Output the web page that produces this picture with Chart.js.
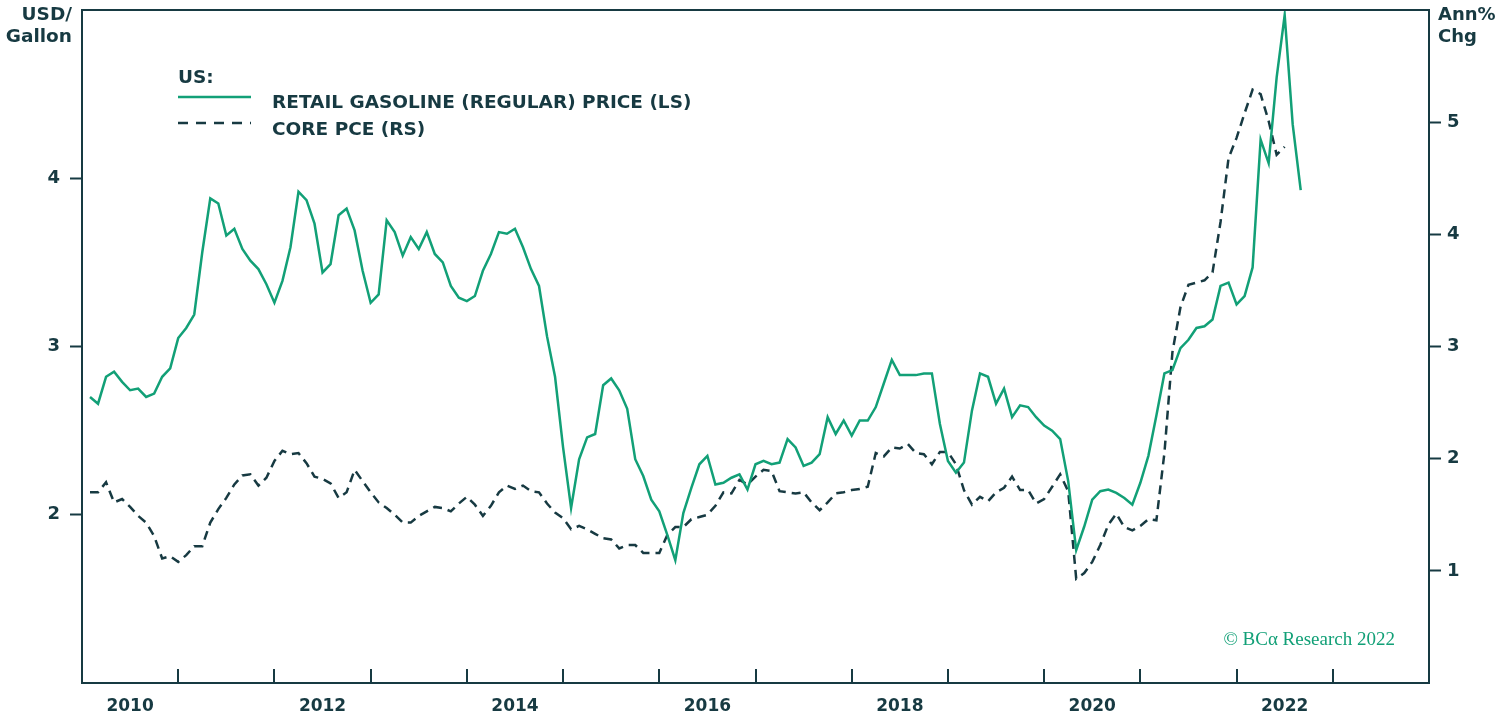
<!DOCTYPE html>
<html>
<head>
<meta charset="utf-8">
<script src="https://cdn.jsdelivr.net/npm/chart.js@4.4.0/dist/chart.umd.min.js"></script>
<style>
  html, body { margin: 0; padding: 0; background: #fff; }
  #wrap { width: 1499px; height: 714px; position: relative; }
</style>
</head>
<body>
<div id="wrap"><canvas id="myChart"></canvas></div>
<script>
// monthly, starting Jan 2010 (index 0)
const gasPrice = [
  2.70, 2.66, 2.82, 2.85, 2.79, 2.74, 2.75, 2.70, 2.72, 2.82, 2.87, 3.05,
  3.11, 3.19, 3.56, 3.88, 3.85, 3.66, 3.70, 3.58, 3.51, 3.46, 3.37, 3.26,
  3.39, 3.59, 3.92, 3.87, 3.73, 3.44, 3.49, 3.78, 3.82, 3.69, 3.45, 3.26,
  3.31, 3.75, 3.68, 3.54, 3.65, 3.58, 3.68, 3.55, 3.50, 3.36, 3.29, 3.27,
  3.30, 3.45, 3.55, 3.68, 3.67, 3.70, 3.59, 3.46, 3.36, 3.06, 2.82, 2.40,
  2.04, 2.33, 2.46, 2.48, 2.77, 2.81, 2.74, 2.63, 2.33, 2.23, 2.09, 2.02,
  1.88, 1.73, 2.01, 2.16, 2.30, 2.35, 2.18, 2.19, 2.22, 2.24, 2.15, 2.30,
  2.32, 2.30, 2.31, 2.45, 2.40, 2.29, 2.31, 2.36, 2.58, 2.48, 2.56, 2.47,
  2.56, 2.56, 2.64, 2.78, 2.92, 2.83, 2.83, 2.83, 2.84, 2.84, 2.54, 2.32,
  2.25, 2.31, 2.62, 2.84, 2.82, 2.66, 2.75, 2.58, 2.65, 2.64, 2.58, 2.53,
  2.50, 2.45, 2.20, 1.79, 1.93, 2.09, 2.14, 2.15, 2.13, 2.10, 2.06, 2.19,
  2.35, 2.59, 2.84, 2.86, 2.99, 3.04, 3.11, 3.12, 3.16, 3.36, 3.38, 3.25,
  3.30, 3.47, 4.23, 4.09, 4.60, 4.97, 4.32, 3.93
];
const corePce = [
  1.70, 1.70, 1.79, 1.61, 1.64, 1.57, 1.49, 1.43, 1.31, 1.11, 1.13, 1.08,
  1.14, 1.22, 1.22, 1.43, 1.55, 1.65, 1.77, 1.85, 1.86, 1.76, 1.83, 1.98,
  2.07, 2.04, 2.05, 1.96, 1.84, 1.82, 1.78, 1.65, 1.70, 1.90, 1.80, 1.70,
  1.61, 1.56, 1.50, 1.43, 1.43, 1.49, 1.53, 1.57, 1.56, 1.53, 1.60, 1.66,
  1.59, 1.49, 1.58, 1.70, 1.76, 1.73, 1.76, 1.71, 1.70, 1.60, 1.52, 1.47,
  1.37, 1.40, 1.37, 1.33, 1.29, 1.28, 1.20, 1.23, 1.23, 1.16, 1.16, 1.16,
  1.32, 1.39, 1.39, 1.46, 1.48, 1.50, 1.58, 1.70, 1.69, 1.81, 1.77, 1.84,
  1.90, 1.89, 1.71, 1.70, 1.69, 1.70, 1.61, 1.54, 1.61, 1.69, 1.70, 1.72,
  1.73, 1.75, 2.05, 2.02, 2.10, 2.09, 2.13, 2.05, 2.04, 1.95, 2.06, 2.06,
  1.95, 1.72, 1.59, 1.66, 1.62, 1.70, 1.74, 1.84, 1.72, 1.72, 1.60, 1.64,
  1.75, 1.86, 1.71, 0.93, 0.98, 1.08, 1.23, 1.41, 1.51, 1.39, 1.36, 1.40,
  1.46, 1.45, 2.05, 2.95, 3.35, 3.55, 3.57, 3.59, 3.66, 4.11, 4.68, 4.86,
  5.08, 5.29, 5.25, 5.01, 4.71, 4.78
];
const firstYear = 2010;
const lastYear = 2023;
const yearLabels = ['2010', '2012', '2014', '2016', '2018', '2020', '2022'];
const leftTicks = [2, 3, 4];
const rightTicks = [1, 2, 3, 4, 5];

const dark = '#173a42';
const green = '#12a077';
const font = '"DejaVu Sans", sans-serif';

// month index of the middle of a year, and of the start of a year
const yearMid = y => (y - firstYear) * 12 + 5;
const yearStart = y => (y - firstYear) * 12 - 1;

const toPts = arr => arr.map((v, i) => ({ x: i, y: v }));

// no automatic label padding on the value axes
const noPad = s => { s.paddingTop = 0; s.paddingBottom = 0; };

const decor = {
  id: 'decor',
  afterDraw(chart) {
    const ctx = chart.ctx;
    const a = chart.chartArea;
    const xs = chart.scales.x;
    ctx.save();
    ctx.strokeStyle = dark;
    ctx.lineWidth = 2;
    // top frame line
    ctx.beginPath();
    ctx.moveTo(a.left - 1, a.top);
    ctx.lineTo(a.right + 1, a.top);
    ctx.stroke();
    // inward year ticks
    for (let y = firstYear + 1; y <= lastYear; y++) {
      const px = Math.round(xs.getPixelForValue(yearStart(y)));
      ctx.beginPath();
      ctx.moveTo(px, a.bottom);
      ctx.lineTo(px, a.bottom - 14);
      ctx.stroke();
    }
    // axis titles
    ctx.fillStyle = dark;
    ctx.font = 'bold 18.5px ' + font;
    ctx.textBaseline = 'middle';
    ctx.textAlign = 'right';
    ctx.fillText('USD/', 72, 15);
    ctx.fillText('Gallon', 72, 37);
    ctx.textAlign = 'left';
    ctx.font = 'bold 18px ' + font;
    ctx.fillText('Ann%', 1438, 15);
    ctx.fillText('Chg', 1438, 37);
    // legend
    ctx.font = 'bold 18.5px ' + font;
    ctx.fillText('US:', 178, 78);
    ctx.fillText('RETAIL GASOLINE (REGULAR) PRICE (LS)', 272, 103);
    ctx.fillText('CORE PCE (RS)', 272, 130);
    ctx.lineWidth = 2.5;
    ctx.strokeStyle = green;
    ctx.beginPath();
    ctx.moveTo(178, 97);
    ctx.lineTo(251, 97);
    ctx.stroke();
    ctx.strokeStyle = dark;
    ctx.setLineDash([10, 8]);
    ctx.beginPath();
    ctx.moveTo(178, 123);
    ctx.lineTo(251, 123);
    ctx.stroke();
    ctx.setLineDash([]);
    // credit
    ctx.fillStyle = green;
    ctx.font = '19px "Liberation Serif", "DejaVu Serif", serif';
    ctx.textAlign = 'right';
    ctx.fillText('\u00A9 BC\u03B1 Research 2022', 1395, 640);
    ctx.restore();
  }
};

const ctx = document.getElementById('myChart').getContext('2d');
const myChart = new Chart(ctx, {
  type: 'line',
  data: {
    datasets: [
      {
        label: 'RETAIL GASOLINE (REGULAR) PRICE (LS)',
        data: toPts(gasPrice),
        borderColor: green,
        borderWidth: 2.5,
        pointRadius: 0,
        tension: 0,
        yAxisID: 'y'
      },
      {
        label: 'CORE PCE (RS)',
        data: toPts(corePce),
        borderColor: dark,
        borderWidth: 2.5,
        borderDash: [9, 6],
        pointRadius: 0,
        tension: 0,
        yAxisID: 'y2'
      }
    ]
  },
  plugins: [decor],
  options: {
    responsive: true,
    maintainAspectRatio: false,
    animation: false,
    layout: { padding: { top: 10, left: 0, right: 0, bottom: 0 } },
    plugins: {
      legend: { display: false },
      tooltip: { enabled: false }
    },
    scales: {
      x: {
        type: 'linear',
        min: -1,
        max: (lastYear - firstYear + 1) * 12 - 1,
        afterBuildTicks: s => { s.ticks = yearLabels.map(l => ({ value: yearMid(+l) })); },
        afterFit: s => { s.height = 31; s.paddingLeft = 0; s.paddingRight = 0; },
        grid: { display: false, drawTicks: false },
        border: { display: true, color: dark, width: 2 },
        ticks: {
          autoSkip: false,
          maxRotation: 0,
          padding: 13,
          color: dark,
          font: { family: font, size: 17, weight: 'bold' },
          callback: v => String(firstYear + Math.floor((v + 1) / 12))
        }
      },
      y: {
        position: 'left',
        min: 1,
        max: 5,
        afterBuildTicks: s => { s.ticks = leftTicks.map(v => ({ value: v })); },
        afterFit: s => { s.width = 82; noPad(s); },
        grid: { drawOnChartArea: false, drawTicks: true, tickLength: 12, tickWidth: 2, tickColor: dark },
        border: { display: true, color: dark, width: 2 },
        ticks: { padding: 10, color: dark, font: { family: font, size: 18, weight: 'bold' } }
      },
      y2: {
        position: 'right',
        min: 0,
        max: 6,
        afterBuildTicks: s => { s.ticks = rightTicks.map(v => ({ value: v })); },
        afterFit: s => { s.width = 70; noPad(s); },
        grid: { drawOnChartArea: false, drawTicks: true, tickLength: 12, tickWidth: 2, tickColor: dark },
        border: { display: true, color: dark, width: 2 },
        ticks: { padding: 6, color: dark, font: { family: font, size: 18, weight: 'bold' } }
      }
    }
  }
});
</script>
</body>
</html>
